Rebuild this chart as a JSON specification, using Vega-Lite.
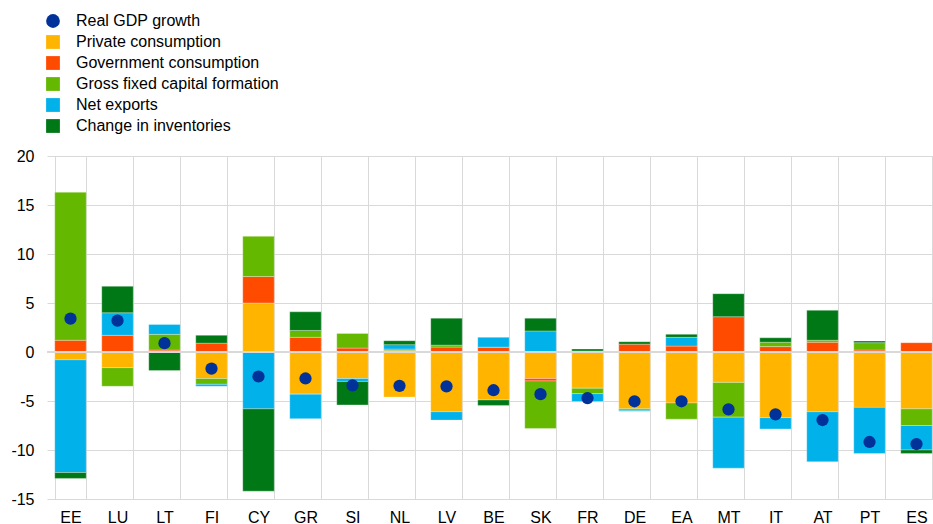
{
  "$schema": "https://vega.github.io/schema/vega-lite/v6.json",
  "autosize": {"type": "none"},
  "width": 886,
  "height": 343,
  "padding": {"left": 47, "top": 156, "right": 0, "bottom": 25},
  "background": "white",
  "config": {
    "font": "Liberation Sans",
    "view": {"stroke": null},
    "legend": {
      "title": null, "orient": "none", "legendX": -2, "legendY": -143,
      "labelFontSize": 16, "labelColor": "#000000", "labelOffset": 15, "labelLimit": 0,
      "symbolSize": 190, "symbolStrokeWidth": 0, "rowPadding": 5, "symbolOpacity": 1
    }
  },
  "datasets": {
    "order": [
      {"series": "Real GDP growth", "ord": 0},
      {"series": "Private consumption", "ord": 1},
      {"series": "Government consumption", "ord": 2},
      {"series": "Gross fixed capital formation", "ord": 3},
      {"series": "Net exports", "ord": 4},
      {"series": "Change in inventories", "ord": 5}
    ]
  },
  "data": {
    "values": [
      {"country": "EE", "Real GDP growth": 3.4, "Private consumption": -0.8, "Government consumption": 1.2, "Gross fixed capital formation": 15.1, "Net exports": -11.5, "Change in inventories": -0.6},
      {"country": "LU", "Real GDP growth": 3.2, "Private consumption": -1.6, "Government consumption": 1.7, "Gross fixed capital formation": -1.9, "Net exports": 2.3, "Change in inventories": 2.7},
      {"country": "LT", "Real GDP growth": 0.9, "Private consumption": 0.1, "Government consumption": 0.1, "Gross fixed capital formation": 1.6, "Net exports": 1.0, "Change in inventories": -1.9},
      {"country": "FI", "Real GDP growth": -1.7, "Private consumption": -2.7, "Government consumption": 0.9, "Gross fixed capital formation": -0.6, "Net exports": -0.2, "Change in inventories": 0.8},
      {"country": "CY", "Real GDP growth": -2.5, "Private consumption": 5.0, "Government consumption": 2.7, "Gross fixed capital formation": 4.1, "Net exports": -5.8, "Change in inventories": -8.4},
      {"country": "GR", "Real GDP growth": -2.7, "Private consumption": -4.3, "Government consumption": 1.5, "Gross fixed capital formation": 0.7, "Net exports": -2.5, "Change in inventories": 1.9},
      {"country": "SI", "Real GDP growth": -3.4, "Private consumption": -2.7, "Government consumption": 0.4, "Gross fixed capital formation": 1.5, "Net exports": -0.3, "Change in inventories": -2.4},
      {"country": "NL", "Real GDP growth": -3.45, "Private consumption": -4.6, "Government consumption": 0.15, "Gross fixed capital formation": 0.15, "Net exports": 0.45, "Change in inventories": 0.4},
      {"country": "LV", "Real GDP growth": -3.5, "Private consumption": -6.1, "Government consumption": 0.5, "Gross fixed capital formation": 0.2, "Net exports": -0.85, "Change in inventories": 2.75},
      {"country": "BE", "Real GDP growth": -3.9, "Private consumption": -4.9, "Government consumption": 0.5, "Gross fixed capital formation": 0.0, "Net exports": 1.0, "Change in inventories": -0.55},
      {"country": "SK", "Real GDP growth": -4.3, "Private consumption": -2.7, "Government consumption": -0.25, "Gross fixed capital formation": -4.85, "Net exports": 2.15, "Change in inventories": 1.3},
      {"country": "FR", "Real GDP growth": -4.7, "Private consumption": -3.7, "Government consumption": 0.1, "Gross fixed capital formation": -0.55, "Net exports": -0.8, "Change in inventories": 0.2},
      {"country": "DE", "Real GDP growth": -5.03, "Private consumption": -5.8, "Government consumption": 0.8, "Gross fixed capital formation": -0.15, "Net exports": -0.1, "Change in inventories": 0.25},
      {"country": "EA", "Real GDP growth": -5.03, "Private consumption": -5.2, "Government consumption": 0.6, "Gross fixed capital formation": -1.65, "Net exports": 0.9, "Change in inventories": 0.3},
      {"country": "MT", "Real GDP growth": -5.85, "Private consumption": -3.1, "Government consumption": 3.6, "Gross fixed capital formation": -3.55, "Net exports": -5.2, "Change in inventories": 2.35},
      {"country": "IT", "Real GDP growth": -6.36, "Private consumption": -6.7, "Government consumption": 0.55, "Gross fixed capital formation": 0.45, "Net exports": -1.15, "Change in inventories": 0.45},
      {"country": "AT", "Real GDP growth": -6.94, "Private consumption": -6.1, "Government consumption": 1.0, "Gross fixed capital formation": 0.2, "Net exports": -5.1, "Change in inventories": 3.05},
      {"country": "PT", "Real GDP growth": -9.18, "Private consumption": -5.65, "Government consumption": 0.2, "Gross fixed capital formation": 0.75, "Net exports": -4.7, "Change in inventories": 0.17},
      {"country": "ES", "Real GDP growth": -9.39, "Private consumption": -5.8, "Government consumption": 0.95, "Gross fixed capital formation": -1.7, "Net exports": -2.5, "Change in inventories": -0.35}
    ]
  },
  "transform": [
    {"fold": ["Real GDP growth", "Private consumption", "Government consumption", "Gross fixed capital formation", "Net exports", "Change in inventories"], "as": ["series", "value"]},
    {"lookup": "series", "from": {"data": {"name": "order"}, "key": "series", "fields": ["ord"]}}
  ],
  "encoding": {
    "x": {
      "field": "country", "type": "nominal", "sort": null, "title": null,
      "scale": {"range": [0, 893], "paddingInner": 0.33, "paddingOuter": 0.165},
      "axis": {"grid": true, "tickBand": "extent", "gridColor": "#d9d9d9", "gridWidth": 1, "ticks": false, "domain": false, "labelAngle": 0, "labelFontSize": 16, "labelColor": "#000000", "labelPadding": 10}
    }
  },
  "layer": [
    {
      "transform": [{"filter": "datum.series !== 'Real GDP growth'"}],
      "mark": {"type": "bar", "stroke": "white", "strokeWidth": 0.5, "strokeOpacity": 0.6},
      "encoding": {
        "y": {
          "field": "value", "type": "quantitative", "stack": "zero", "title": null,
          "scale": {"domain": [-15, 20], "nice": false, "zero": false},
          "axis": {"values": [-15, -10, -5, 0, 5, 10, 15, 20], "labelExpr": "toString(datum.value)", "grid": true, "gridColor": "#d9d9d9", "gridWidth": 1, "ticks": false, "domain": false, "labelFontSize": 16, "labelColor": "#000000", "labelPadding": 13}
        },
        "order": {"field": "ord", "type": "quantitative", "sort": "ascending"},
        "color": {
          "field": "series", "type": "nominal",
          "scale": {
            "domain": ["Real GDP growth", "Private consumption", "Government consumption", "Gross fixed capital formation", "Net exports", "Change in inventories"],
            "range": ["#003299", "#FFB400", "#FF4B00", "#65B800", "#00B1EA", "#007816"]
          }
        }
      }
    },
    {
      "mark": {"type": "rule", "color": "#d9d9d9", "strokeWidth": 1},
      "encoding": {"y": {"datum": 0, "type": "quantitative"}, "x": null}
    },
    {
      "transform": [{"filter": "datum.series === 'Real GDP growth'"}],
      "mark": {"type": "point", "filled": true, "opacity": 1, "size": 150},
      "encoding": {
        "y": {"field": "value", "type": "quantitative"},
        "color": {
          "field": "series", "type": "nominal",
          "scale": {
            "domain": ["Real GDP growth", "Private consumption", "Government consumption", "Gross fixed capital formation", "Net exports", "Change in inventories"],
            "range": ["#003299", "#FFB400", "#FF4B00", "#65B800", "#00B1EA", "#007816"]
          }
        },
        "shape": {
          "field": "series", "type": "nominal",
          "scale": {
            "domain": ["Real GDP growth", "Private consumption", "Government consumption", "Gross fixed capital formation", "Net exports", "Change in inventories"],
            "range": ["circle", "square", "square", "square", "square", "square"]
          }
        }
      }
    }
  ]
}
